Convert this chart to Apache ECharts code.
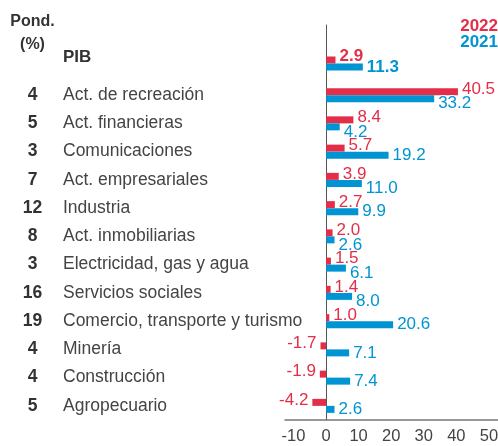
<!DOCTYPE html>
<html>
<head>
<meta charset="utf-8">
<script src="https://cdn.jsdelivr.net/npm/echarts@6/dist/echarts.min.js"></script>
<style>
  html, body { margin: 0; padding: 0; background: #fff; }
  #main { width: 498px; height: 446px; }
</style>
</head>
<body>
<div id="main"></div>
<script>
// sectores y ponderación en el PIB (%)
const sectores = ['Act. de recreación', 'Act. financieras', 'Comunicaciones', 'Act. empresariales', 'Industria',
  'Act. inmobiliarias', 'Electricidad, gas y agua', 'Servicios sociales', 'Comercio, transporte y turismo',
  'Minería', 'Construcción', 'Agropecuario']
const pond = [4, 5, 3, 7, 12, 8, 3, 16, 19, 4, 4, 5]
// variación por año
const var2022 = [40.5, 8.4, 5.7, 3.9, 2.7, 2.0, 1.5, 1.4, 1.0, -1.7, -1.9, -4.2]
const var2021 = [33.2, 4.2, 19.2, 11.0, 9.9, 2.6, 6.1, 8.0, 20.6, 7.1, 7.4, 2.6]
const pib2022 = 2.9
const pib2021 = 11.3
const ticksX = [-10, 0, 10, 20, 30, 40, 50]

const ROJO = '#e42d48'
const AZUL = '#0094d2'
const FONT = 'Liberation Sans'

const chart = echarts.init(document.getElementById('main'))

const baseLabel = {
  show: true,
  position: 'outside',
  distance: 4,
  fontSize: 17,
  fontFamily: FONT,
  textBorderColor: '#fff',
  textBorderWidth: 2,
  formatter: p => p.value == null ? '' : p.value.toFixed(1)
}

const xBase = { type: 'value', min: -12.6, max: 52.8, splitLine: { show: false }, axisTick: { show: false } }
const yLine = { onZero: true, lineStyle: { color: '#555', width: 1 } }

chart.setOption({
  animation: false,
  legend: {
    data: [{ name: '2022', textStyle: { color: ROJO } }, { name: '2021', textStyle: { color: AZUL } }],
    icon: 'none', orient: 'vertical', right: 0, top: 18, padding: 0, itemGap: -1, itemHeight: 14,
    itemWidth: 0, align: 'left',
    textStyle: { fontSize: 17, fontWeight: 'bold', fontFamily: FONT }
  },
  graphic: [{
    type: 'text', x: 32.5, y: 10,
    style: { text: 'Pond.\n(%)', align: 'center', fontSize: 16, fontWeight: 'bold', fontFamily: FONT, lineHeight: 23, fill: '#333' }
  }],
  grid: [
    { left: 285, right: 0, top: 25, height: 56, outerBoundsMode: 'none' },
    { left: 285, right: 0, top: 81, height: 339, outerBoundsMode: 'none' }
  ],
  xAxis: [
    Object.assign({ gridIndex: 0, axisLine: { show: false }, axisLabel: { show: false } }, xBase),
    Object.assign({
      gridIndex: 1,
      axisLine: { show: true, lineStyle: { color: '#777', width: 1.5 } },
      axisLabel: { customValues: ticksX, fontSize: 16.5, fontFamily: FONT, color: '#444', margin: 8 }
    }, xBase)
  ],
  yAxis: [{
    gridIndex: 0, type: 'category', data: ['', 'PIB'], inverse: true,
    axisLine: yLine, axisTick: { show: false },
    axisLabel: {
      margin: 222, align: 'left',
      formatter: v => v ? '{p|' + v + '}' : '',
      rich: { p: { fontSize: 17, fontWeight: 'bold', fontFamily: FONT, color: '#333', padding: [0, 0, 20, 0] } }
    }
  }, {
    gridIndex: 1, type: 'category', data: sectores, inverse: true,
    axisLine: yLine, axisTick: { show: false },
    axisLabel: {
      margin: 267.5, align: 'left',
      formatter: (v, i) => '{w|' + pond[i] + '}{n|' + v + '}',
      rich: {
        w: { width: 30, align: 'center', fontSize: 17.5, fontWeight: 'bold', fontFamily: FONT, color: '#333' },
        n: { fontSize: 17.5, fontFamily: FONT, color: '#444', padding: [0, 0, 0, 15.5] }
      }
    }
  }],
  series: [
    {
      name: '2022', type: 'bar', xAxisIndex: 0, yAxisIndex: 0, data: [null, pib2022],
      barWidth: 7, barGap: '0%', itemStyle: { color: ROJO },
      label: Object.assign({}, baseLabel, { color: ROJO, fontWeight: 'bold', offset: [0, -4] })
    },
    {
      name: '2021', type: 'bar', xAxisIndex: 0, yAxisIndex: 0, data: [null, pib2021],
      barWidth: 7, barGap: '0%', itemStyle: { color: AZUL },
      label: Object.assign({}, baseLabel, { color: AZUL, fontWeight: 'bold' })
    },
    {
      // serie vacía: sube el par de barras del PIB dentro de su banda
      name: 'hueco', type: 'bar', xAxisIndex: 0, yAxisIndex: 0, data: [null, null],
      barWidth: 7, barGap: '0%', silent: true
    },
    {
      name: '2022', type: 'bar', xAxisIndex: 1, yAxisIndex: 1, data: var2022,
      barWidth: 7, barGap: '0%', itemStyle: { color: ROJO },
      label: Object.assign({}, baseLabel, { color: ROJO, offset: [0, -2.5] })
    },
    {
      name: '2021', type: 'bar', xAxisIndex: 1, yAxisIndex: 1, data: var2021,
      barWidth: 7, barGap: '0%', itemStyle: { color: AZUL },
      label: Object.assign({}, baseLabel, { color: AZUL }),
      labelLayout: p => {
        const a = var2022[p.dataIndex], b = var2021[p.dataIndex]
        if (a < 0) return {}
        // si la etiqueta azul choca con la roja, bajarla un poco
        const wa = a.toFixed(1).length * 2.7, wb = b.toFixed(1).length * 2.7
        return (b < a + wa - 1 && a < b + wb) ? { dy: 5 } : {}
      }
    }
  ]
})
</script>
</body>
</html>
